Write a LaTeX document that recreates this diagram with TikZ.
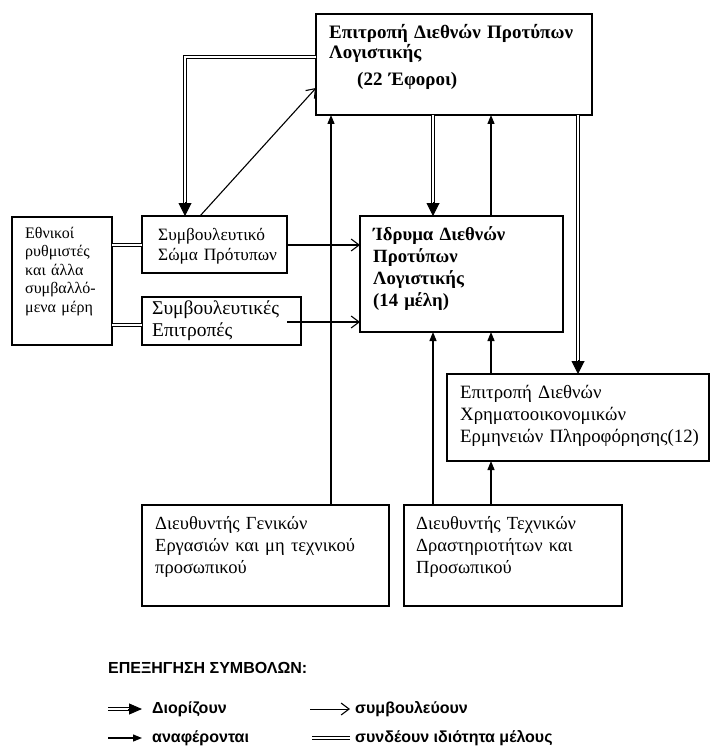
\documentclass[tikz,border=0pt]{standalone}
\usepackage{fontspec}
\setmainfont{Liberation Serif}
\newfontfamily\legendfont{Liberation Sans}
\usetikzlibrary{arrows.meta,calc}
\tikzset{
  box/.style={draw, line width=1.1pt, anchor=north west, inner sep=0pt, outer sep=0pt},
  txt/.style={anchor=base west, inner sep=0pt, align=left, text width=280pt, font=\fontsize{18.5}{22}\selectfont},
  btxt/.style={txt, font=\fontsize{18.7}{22}\selectfont\bfseries},
  dbl/.style={double, double distance=2.4pt, line width=1pt},
  advise/.style={line width=1.1pt, -{Straight Barb[length=8pt,width=12pt,line width=1.1pt]}},
  report/.style={line width=1.3pt, -{Triangle[length=9pt,width=7pt]}},
  apptip/.style={line width=1pt, -{Triangle[length=13pt,width=13pt]}},
  legtxt/.style={anchor=west, inner sep=0pt, font=\legendfont\fontsize{16}{18}\selectfont\bfseries}
}
\begin{document}
\begin{tikzpicture}[x=1pt,y=-1pt]
\useasboundingbox (0,0) rectangle (711,749);
% boxes
\node[box, minimum width=276pt, minimum height=101pt] (top) at (316,14) {};
\node[box, minimum width=100pt, minimum height=128pt] (nat) at (12,217) {};
\node[box, minimum width=145pt, minimum height=57pt] (symb) at (142,216) {};
\node[box, minimum width=159pt, minimum height=48pt] (symbE) at (142,297) {};
\node[box, minimum width=203pt, minimum height=116pt] (idr) at (360,216) {};
\node[box, minimum width=262pt, minimum height=87pt] (ermin) at (447,374) {};
\node[box, minimum width=247pt, minimum height=101pt] (dirG) at (142,505) {};
\node[box, minimum width=218pt, minimum height=101pt] (dirT) at (404,505) {};
% texts
\node[btxt, font=\fontsize{19}{20}\selectfont\bfseries] (topT) at (329,39) {Επιτροπή Διεθνών Προτύπων\\Λογιστικής\\[7pt]\hspace*{28pt}(22 Έφοροι)};
\node[txt, font=\fontsize{16}{18.6}\selectfont] (natT) at (25,238) {Εθνικοί\\ρυθμιστές\\και άλλα\\συμβαλλό-\\μενα μέρη};
\node[txt, font=\fontsize{17.3}{20}\selectfont] (symbT) at (158,240.5) {Συμβουλευτικό\\Σώμα Πρότυπων};
\node[txt, font=\fontsize{19.5}{22}\selectfont] (symbET) at (152,314) {Συμβουλευτικές\\Επιτροπές};
\node[btxt] (idrT) at (373,240.5) {Ίδρυμα Διεθνών\\Προτύπων\\Λογιστικής\\(14 μέλη)};
\node[txt, font=\fontsize{18.8}{22}\selectfont] (erminT) at (460,398.5) {Επιτροπή Διεθνών\\Χρηματοοικονομικών\\Ερμηνειών Πληροφόρησης(12)};
\node[txt] (dirGT) at (155,529.5) {Διευθυντής Γενικών\\Εργασιών και μη τεχνικού\\προσωπικού};
\node[txt] (dirTT) at (416,529.5) {Διευθυντής Τεχνικών\\Δραστηριοτήτων και\\Προσωπικού};
% helper coordinates
\coordinate (cA) at (331,0);
\coordinate (cB) at (433,0);
\coordinate (cC) at (491,0);
\coordinate (cD) at (578,0);
\coordinate (cE) at (185,0);
\coordinate (cF) at (200,0);
\coordinate (r57) at (0,57);
\coordinate (r88) at (0,88);
\coordinate (r245) at (0,245);
\coordinate (r322) at (0,322);
\coordinate (r325) at (0,325);
% appoint: top -> symb
\draw[dbl, line join=miter] (top.west |- r57) -| ($(cE |- symb.north)+(0,-12)$);
\draw[apptip] ($(cE |- symb.north)+(0,-14)$) -- (cE |- symb.north);
% advise: symb -> top
\draw[advise] (cF |- symb.north) -- (top.west |- r88);
% membership
\draw[dbl] (nat.east |- r245) -- (symb.west |- r245);
\draw[dbl] (nat.east |- r325) -- (symbE.west |- r325);
% advise into idr
\draw[advise] (symb.east |- r245) -- (idr.west |- r245);
\draw[advise] ($(symbE.east |- r322)+(-14,0)$) -- (idr.west |- r322);
% report lines
\draw[report] (cA |- dirG.north) -- (cA |- top.south);
\draw[report] (cC |- idr.north) -- (cC |- top.south);
\draw[report] (cB |- dirT.north) -- (cB |- idr.south);
\draw[report] (cC |- ermin.north) -- (cC |- idr.south);
\draw[report] (cC |- dirT.north) -- (cC |- ermin.south);
% appoint: top -> idr, top -> ermin
\draw[dbl] (cB |- top.south) -- ($(cB |- idr.north)+(0,-12)$);
\draw[apptip] ($(cB |- idr.north)+(0,-14)$) -- (cB |- idr.north);
\draw[dbl] (cD |- top.south) -- ($(cD |- ermin.north)+(0,-12)$);
\draw[apptip] ($(cD |- ermin.north)+(0,-14)$) -- (cD |- ermin.north);
% legend
\node[legtxt] (legT) at (108,668) {ΕΠΕΞΗΓΗΣΗ ΣΥΜΒΟΛΩΝ:};
\coordinate (l1a) at (108,709); \coordinate (l1b) at (142,709);
\coordinate (l2a) at (108,738); \coordinate (l2b) at (142,738);
\coordinate (l3a) at (310,709); \coordinate (l3b) at (350,709);
\coordinate (l4a) at (312,738); \coordinate (l4b) at (350,738);
\draw[dbl] (l1a) -- ($(l1b)+(-12,0)$);
\draw[apptip, -{Triangle[length=13pt,width=11pt]}] ($(l1b)+(-14,0)$) -- (l1b);
\node[legtxt] (leg1) at (152,709) {Διορίζουν};
\draw[report] (l2a) -- (l2b);
\node[legtxt] (leg2) at (152,738) {αναφέρονται};
\draw[advise, line width=0.9pt] (l3a) -- (l3b);
\node[legtxt] (leg3) at (355,709) {συμβουλεύουν};
\draw[dbl] (l4a) -- (l4b);
\node[legtxt] (leg4) at (355,738) {συνδέουν ιδιότητα μέλους};
\end{tikzpicture}
\end{document}
